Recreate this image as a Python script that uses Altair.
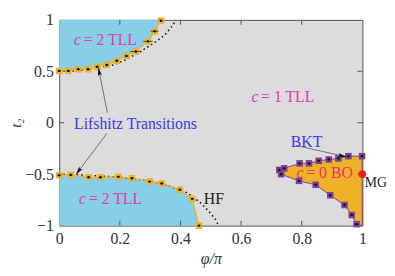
import altair as alt
import pandas as pd

# ---------------- data ----------------
X_DOMAIN = [0, 1]
Y_DOMAIN = [-1, 1]
X_TICKS = [0, 0.2, 0.4, 0.6, 0.8, 1]
Y_TICKS = [-1, -0.5, 0, 0.5, 1]

# upper c=2 TLL boundary (orange squares)
up_phi = [0.0, 0.030, 0.063, 0.095, 0.125, 0.157, 0.190, 0.222, 0.253, 0.293, 0.315, 0.336]
up_t2 = [0.504, 0.504, 0.52, 0.52, 0.545, 0.562, 0.603, 0.648, 0.692, 0.791, 0.89, 0.992]
up_err = [0.006, 0.006, 0.006, 0.006, 0.006, 0.006, 0.006, 0.007, 0.019, 0.016, 0.013, 0.006]

# lower c=2 TLL boundary (orange squares)
dn_phi = [0.0, 0.038, 0.097, 0.136, 0.195, 0.240, 0.298, 0.338, 0.398, 0.439, 0.461]
dn_t2 = [-0.51, -0.507, -0.53, -0.53, -0.526, -0.54, -0.572, -0.59, -0.651, -0.74, -1.0]
dn_err = [0.006, 0.006, 0.006, 0.006, 0.006, 0.006, 0.006, 0.006, 0.006, 0.006, 0.006]

# c=0 BO region boundary (purple squares)
bo_up_phi = [0.726, 0.742, 0.793, 0.824, 0.856, 0.889, 0.921, 0.954, 0.999]
bo_up_t2 = [-0.459, -0.443, -0.395, -0.395, -0.370, -0.357, -0.347, -0.325, -0.325]
bo_lo_phi = [0.732, 0.791, 0.846, 0.894, 0.941, 0.965, 0.981]
bo_lo_t2 = [-0.50, -0.565, -0.603, -0.705, -0.80, -0.897, -0.986]

# HF curves (dotted)
hf_up_phi = [0.0, 0.06, 0.12, 0.179, 0.222, 0.266, 0.309, 0.347, 0.374, 0.385]
hf_up_t2 = [0.5, 0.505, 0.528, 0.562, 0.615, 0.689, 0.768, 0.849, 0.944, 1.0]
hf_dn_phi = [0.0, 0.1, 0.2, 0.3, 0.358, 0.423, 0.466, 0.493, 0.515, 0.526]
hf_dn_t2 = [-0.5, -0.512, -0.53, -0.565, -0.61, -0.682, -0.778, -0.858, -0.938, -1.0]

# MG point
mg_phi = [1.0]
mg_t2 = [-0.5]

# text labels
lab_text = ["c", "= 2 TLL", "c", "= 2 TLL", "c", "= 1 TLL", "Lifshitz Transitions",
            "BKT", "c", "= 0 BO", "HF", "MG"]
lab_phi = [0.049, 0.081, 0.065, 0.098, 0.634, 0.666, 0.049, 0.764, 0.783, 0.815, 0.477, 1.008]
lab_t2 = [0.753, 0.753, -0.794, -0.794, 0.201, 0.201, -0.06, -0.236, -0.536, -0.536, -0.794, -0.62]
lab_kind = ["mi", "m", "mi", "m", "mi", "m", "b", "b", "ri", "r", "k", "ks"]

# arrows: tail, head centre, head angle
arr_tail_phi = [0.159, 0.157, 0.780]
arr_tail_t2 = [0.096, -0.105, -0.220]
arr_head_phi = [0.132, 0.064, 0.933]
arr_head_t2 = [0.494, -0.469, -0.322]
arr_angle = [348.5, 216.9, 102.8]

# ---------------- styles ----------------
GREY = "#dcdcdc"
BLUE = "#87ceeb"
ORANGE = "#efb125"
PURPLE = "#7b3f9b"
MAG = "#e83aa8"
BOCOL = "#f0306e"
TXTBLUE = "#3a3ae6"
FONT = "Liberation Serif, DejaVu Serif, Times New Roman, serif"
COLORS = {"mi": MAG, "m": MAG, "b": TXTBLUE, "ri": BOCOL, "r": BOCOL, "k": "#222222", "ks": "#222222"}

W, H = 308, 209

xs = alt.Scale(domain=X_DOMAIN, nice=False, zero=False)
ys = alt.Scale(domain=Y_DOMAIN, nice=False, zero=False)

X = alt.X("phi:Q", scale=xs, title="φ/π",
          axis=alt.Axis(values=X_TICKS, titleFontStyle="italic", titleY=34,
                        titleBaseline="middle", labelFlush=False, labelPadding=5,
                        labelExpr="'' + datum.value"))
Y = alt.Y("t2:Q", scale=ys, title="t₂",
          axis=alt.Axis(values=Y_TICKS, titleFontStyle="italic", titleX=-44, titleY=H / 2,
                        titleAngle=270, titleAlign="center", titleBaseline="middle",
                        titleFontSize=15, labelFlush=False,
                        labelExpr="datum.value < 0 ? '\u2212' + abs(datum.value) : '' + datum.value"))

up = pd.DataFrame({"phi": up_phi, "t2": up_t2, "err": up_err})
dn = pd.DataFrame({"phi": dn_phi, "t2": dn_t2, "err": dn_err})
for d in (up, dn):
    d["lo"] = d["phi"] - d["err"]
    d["hi"] = d["phi"] + d["err"]

bo_up = pd.DataFrame({"phi": bo_up_phi, "t2": bo_up_t2})
bo_lo = pd.DataFrame({"phi": bo_lo_phi, "t2": bo_lo_t2})
bo_pts = pd.concat([bo_up, bo_lo], ignore_index=True)
bo_pts["lo"] = bo_pts["phi"] - 0.006
bo_pts["hi"] = bo_pts["phi"] + 0.006

# closed polygon for the BO region
poly_phi = [bo_lo_phi[0]] + bo_up_phi + [X_DOMAIN[1]] + bo_lo_phi[::-1]
poly_t2 = [bo_lo_t2[0]] + bo_up_t2 + [Y_DOMAIN[0]] + bo_lo_t2[::-1]
poly = pd.DataFrame({"phi": poly_phi, "t2": poly_t2, "seq": list(range(len(poly_phi)))})

hf_up = pd.DataFrame({"phi": hf_up_phi, "t2": hf_up_t2})
hf_dn = pd.DataFrame({"phi": hf_dn_phi, "t2": hf_dn_t2})
mg = pd.DataFrame({"phi": mg_phi, "t2": mg_t2})

labs = pd.DataFrame({"phi": lab_phi, "t2": lab_t2, "text": lab_text, "kind": lab_kind})
labs["color"] = labs["kind"].map(COLORS)
labs_it = labs[labs["kind"].isin(["mi", "ri"])]
labs_rm = labs[labs["kind"].isin(["m", "b", "r", "k"])]
labs_sm = labs[labs["kind"].isin(["ks"])]

arr = pd.DataFrame({"phi": arr_tail_phi, "t2": arr_tail_t2,
                    "phi2": arr_head_phi, "t22": arr_head_t2, "ang": arr_angle})

xt = pd.DataFrame({"phi": X_TICKS[1:-1]})
yt = pd.DataFrame({"t2": Y_TICKS[1:-1]})

# ---------------- layers ----------------
blue_up = alt.Chart(up).mark_area(color=BLUE, opacity=1).encode(x=X, y=Y, y2=alt.datum(Y_DOMAIN[1]))
blue_dn = alt.Chart(dn).mark_area(color=BLUE, opacity=1).encode(x=X, y=Y, y2=alt.datum(Y_DOMAIN[0]))

bo_fill = alt.Chart(poly).mark_line(fill=ORANGE, stroke=PURPLE, strokeWidth=1).encode(
    x=X, y=Y, order="seq:Q")

hf_lines = alt.layer(
    alt.Chart(hf_up).mark_line(color="#111", strokeWidth=1.6, strokeDash=[1.5, 3]).encode(x=X, y=Y),
    alt.Chart(hf_dn).mark_line(color="#111", strokeWidth=1.6, strokeDash=[1.5, 3]).encode(x=X, y=Y),
)

or_lines = alt.layer(
    alt.Chart(up).mark_line(color=ORANGE, strokeWidth=1.2).encode(x=X, y=Y),
    alt.Chart(dn).mark_line(color=ORANGE, strokeWidth=1.2).encode(x=X, y=Y),
)


def markers(df, col):
    sq = alt.Chart(df).mark_square(size=44, color=col, opacity=1).encode(x=X, y=Y)
    eb = alt.Chart(df).mark_rule(color="#333", strokeWidth=0.8).encode(
        x=alt.X("lo:Q", scale=xs), x2="hi:Q", y=Y)
    dot = alt.Chart(df).mark_circle(size=6, color="#111", opacity=1).encode(x=X, y=Y)
    return alt.layer(sq, eb, dot)


arrows_line = alt.Chart(arr).mark_rule(color="#666", strokeWidth=0.9).encode(
    x=X, y=Y, x2="phi2:Q", y2="t22:Q")
arrows_head = alt.Chart(arr).mark_point(
    shape="M0,-1L0.42,0.8L0,0.45L-0.42,0.8Z", size=100, filled=True, color="#111", opacity=1
).encode(x=alt.X("phi2:Q", scale=xs), y=alt.Y("t22:Q", scale=ys), angle=alt.Angle("ang:Q", scale=None))

txt_rm = alt.Chart(labs_rm).mark_text(font=FONT, fontSize=16, align="left", baseline="alphabetic").encode(
    x=X, y=Y, text="text:N", color=alt.Color("color:N", scale=None))
txt_it = alt.Chart(labs_it).mark_text(font=FONT, fontSize=16, fontStyle="italic", align="left",
                                      baseline="alphabetic").encode(
    x=X, y=Y, text="text:N", color=alt.Color("color:N", scale=None))
txt_sm = alt.Chart(labs_sm).mark_text(font=FONT, fontSize=14, align="left", baseline="alphabetic").encode(
    x=X, y=Y, text="text:N", color=alt.Color("color:N", scale=None))

mg_dot = alt.Chart(mg).mark_circle(size=60, color="#ee1c1c", opacity=1).encode(x=X, y=Y)

ticks_x = alt.layer(
    alt.Chart(xt).mark_rule(color="#555", strokeWidth=1).encode(x=X, y=alt.value(H), y2=alt.value(H - 5)),
    alt.Chart(xt).mark_rule(color="#555", strokeWidth=1).encode(x=X, y=alt.value(0), y2=alt.value(5)),
)
ticks_y = alt.layer(
    alt.Chart(yt).mark_rule(color="#555", strokeWidth=1).encode(y=Y, x=alt.value(0), x2=alt.value(5)),
    alt.Chart(yt).mark_rule(color="#555", strokeWidth=1).encode(y=Y, x=alt.value(W), x2=alt.value(W - 5)),
)

chart = alt.layer(
    blue_up, blue_dn, bo_fill, ticks_x, ticks_y, hf_lines, or_lines,
    markers(up, ORANGE), markers(dn, ORANGE), markers(bo_pts, PURPLE),
    arrows_line, arrows_head, txt_rm, txt_it, txt_sm, mg_dot,
).properties(
    width=W, height=H,
    autosize=alt.AutoSizeParams(type="none"),
    padding={"left": 52, "top": 10, "right": 25, "bottom": 41},
).configure_view(
    fill=GREY, stroke="#555", strokeWidth=1
).configure_axis(
    domain=False, grid=False, ticks=False,
    labelFont=FONT, labelFontSize=16, labelColor="#333", labelPadding=6,
    titleFont=FONT, titleFontSize=16, titleColor="#333", titleFontWeight="normal",
)

chart.save("out.html", embed_options={"renderer": "svg", "actions": False})
